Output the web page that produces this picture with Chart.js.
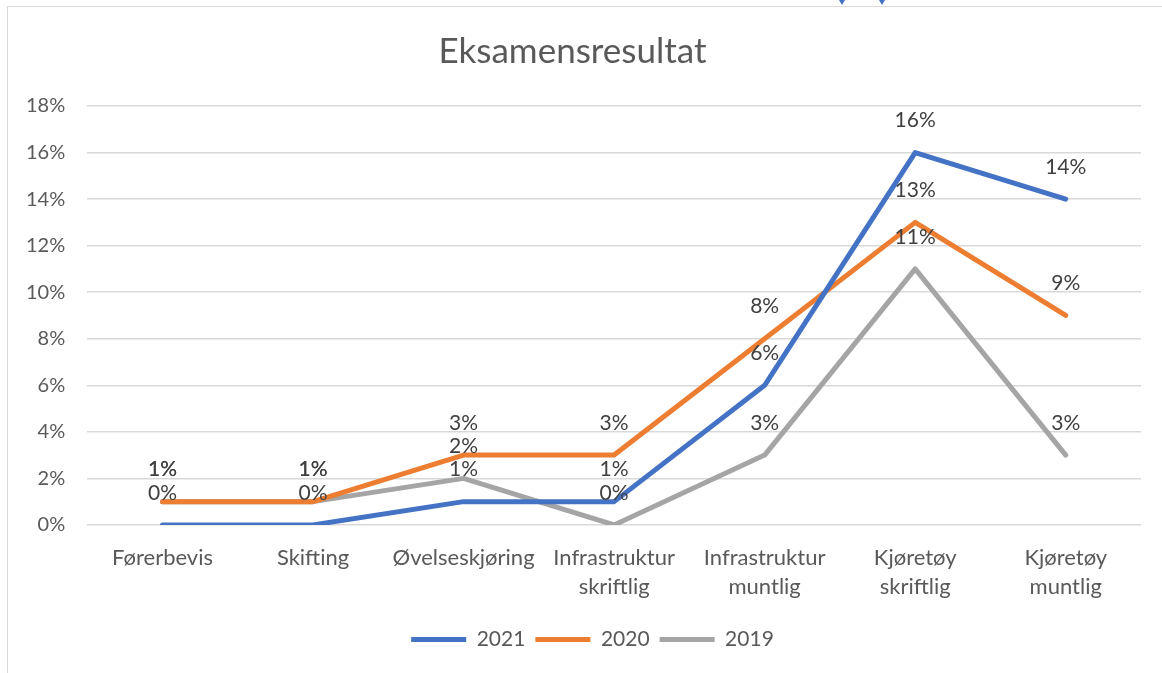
<!DOCTYPE html>
<html>
<head>
<meta charset="utf-8">
<script src="https://cdn.jsdelivr.net/npm/chart.js@4.4.1/dist/chart.umd.min.js"></script>
<style>
  html, body { margin: 0; padding: 0; background: #fff; }
  #wrap { position: relative; width: 1162px; height: 673px; }
  #frame { position: absolute; left: 7px; top: 6px; right: -4px; bottom: -4px; border-left: 1.5px solid #d9d9d9; border-top: 1.5px solid #d9d9d9; pointer-events: none; }
  .mark { position: absolute; top: 0; width: 0; height: 0; border-left: 3px solid transparent; border-right: 3px solid transparent; border-top: 5px solid #4472c4; }
</style>
</head>
<body>
<div id="wrap">
  <canvas id="chart" width="1162" height="673"></canvas>
  <div id="frame"></div>
  <div class="mark" style="left:839px"></div>
  <div class="mark" style="left:879px"></div>
</div>
<script>
const categories = ['Førerbevis', 'Skifting', 'Øvelseskjøring', ['Infrastruktur', 'skriftlig'], ['Infrastruktur', 'muntlig'], ['Kjøretøy', 'skriftlig'], ['Kjøretøy', 'muntlig']];
const seriesNames = ['2021', '2020', '2019'];
const values2021 = [0, 0, 1, 1, 6, 16, 14];
const values2020 = [1, 1, 3, 3, 8, 13, 9];
const values2019 = [1, 1, 2, 0, 3, 11, 3];
const colors = ['#4472c4', '#ed7d31', '#a5a5a5'];

const textColor = '#595959';
const fontName = 'Lato, Carlito, Calibri, sans-serif';

// labels over each point, drawn after the lines
const pointLabels = {
    id: 'pointLabels',
    afterDatasetsDraw(chart) {
        const ctx = chart.ctx;
        ctx.save();
        ctx.font = '21px ' + fontName;
        ctx.fillStyle = '#404040';
        ctx.textAlign = 'center';
        ctx.textBaseline = 'middle';
        chart.data.datasets.forEach((ds, i) => {
            const meta = chart.getDatasetMeta(i);
            meta.data.forEach((pt, j) => {
                ctx.fillText(ds.data[j] + '%', pt.x, pt.y - 32);
            });
        });
        ctx.restore();
    }
};

// the legend sits a bit right of centre in the original
const legendShift = {
    id: 'legendShift',
    afterLayout(chart) {
        chart.legend.left += 20;
        chart.legend.right += 20;
    }
};

function makeDataset(label, data, color) {
    return {
        label: label,
        data: data,
        borderColor: color,
        backgroundColor: color,
        borderWidth: 5,
        borderCapStyle: 'round',
        borderJoinStyle: 'round',
        pointRadius: 0,
        pointHoverRadius: 0,
        tension: 0
    };
}

new Chart(document.getElementById('chart'), {
    type: 'line',
    data: {
        labels: categories,
        datasets: [
            makeDataset(seriesNames[0], values2021, colors[0]),
            makeDataset(seriesNames[1], values2020, colors[1]),
            makeDataset(seriesNames[2], values2019, colors[2])
        ]
    },
    options: {
        responsive: false,
        animation: false,
        layout: { padding: { left: 4, right: 21, top: 0, bottom: 13 } },
        plugins: {
            title: {
                display: true,
                text: 'Eksamensresultat',
                color: textColor,
                font: { family: fontName, size: 35, weight: 'normal' },
                padding: { top: 31, bottom: 33 }
            },
            legend: {
                position: 'bottom',
                labels: {
                    color: textColor,
                    font: { family: fontName, size: 21 },
                    usePointStyle: true,
                    pointStyle: 'line',
                    pointStyleWidth: 55,
                    padding: 10
                }
            },
            tooltip: { enabled: false }
        },
        scales: {
            x: {
                offset: true,
                grid: { display: false, drawTicks: false },
                border: { display: false },
                ticks: {
                    color: textColor,
                    font: { family: fontName, size: 22, lineHeight: 1.32 },
                    padding: 18,
                    maxRotation: 0,
                    autoSkip: false
                }
            },
            y: {
                min: 0,
                max: 18,
                grid: { color: '#d9d9d9', lineWidth: 1.5, drawTicks: false },
                border: { display: false },
                ticks: {
                    stepSize: 2,
                    color: textColor,
                    font: { family: fontName, size: 20 },
                    padding: 22,
                    callback: v => v + '%'
                }
            }
        }
    },
    plugins: [pointLabels, legendShift]
});
</script>
</body>
</html>
